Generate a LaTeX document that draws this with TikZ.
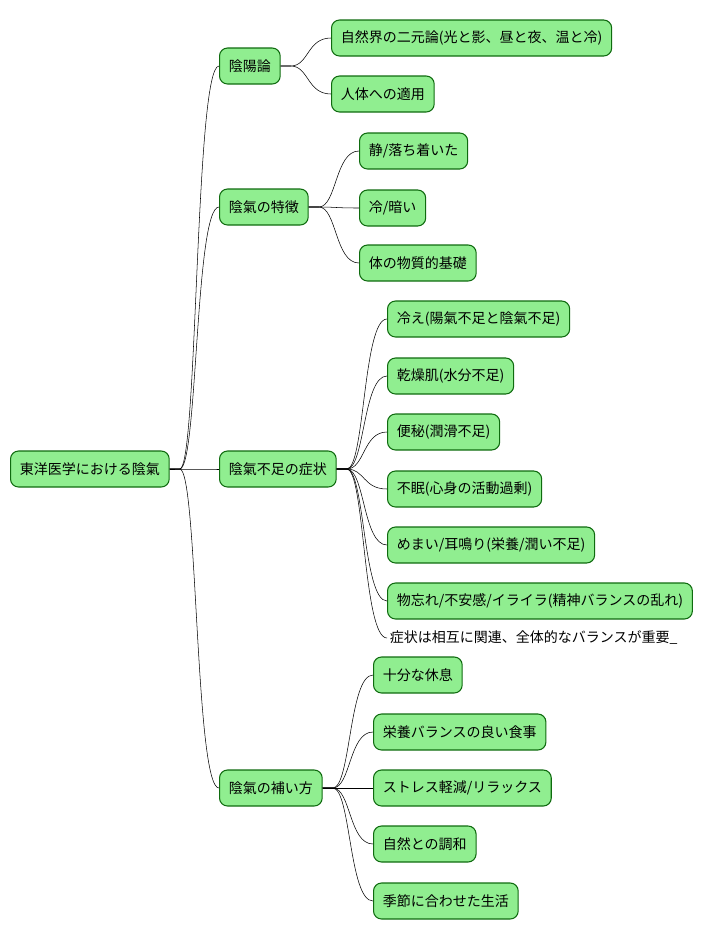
\documentclass[tikz,border=0pt]{standalone}
\usepackage{fontspec}
\setmainfont{Noto Sans CJK JP}
\usetikzlibrary{positioning}
\definecolor{boxfill}{HTML}{90EE90}
\definecolor{boxline}{HTML}{0F6B0F}
\tikzset{
  idea/.style={draw=boxline, fill=boxfill, rounded corners=6pt, thick, anchor=west,
    minimum height=27pt, inner xsep=7pt, font=\fontsize{10.5}{12}\selectfont},
  note/.style={anchor=west, inner xsep=2pt, font=\fontsize{10.5}{12}\selectfont},
  branch/.style={draw, thin}
}
\newcommand{\link}[2]{\draw[branch] (#1.east) -- ++(10,0) .. controls +(18,0) and +(-24,0) .. (#2.west);}

\begin{document}
\begin{tikzpicture}[x=0.75pt,y=-0.75pt]
\useasboundingbox (0,0) rectangle (705,940);

%Root
\node[idea] (root) at (10,469) {東洋医学における陰氣};

%Level one
\node[idea] (yinyang) at (219,66) {陰陽論};
\node[idea] (traits) at (219,207) {陰氣の特徴};
\node[idea] (lack) at (219,469) {陰氣不足の症状};
\node[idea] (care) at (219,788) {陰氣の補い方};

%Yin-yang theory
\node[idea] (nature) at (331,38) {自然界の二元論(光と影、昼と夜、温と冷)};
\node[idea] (body) at (331,94) {人体への適用};

%Traits
\node[idea] (calm) at (359,151) {静/落ち着いた};
\node[idea] (cold) at (359,208) {冷/暗い};
\node[idea] (matter) at (359,263) {体の物質的基礎};

%Symptoms
\node[idea] (chill) at (387,319) {冷え(陽氣不足と陰氣不足)};
\node[idea] (dry) at (387,376) {乾燥肌(水分不足)};
\node[idea] (constip) at (387,432) {便秘(潤滑不足)};
\node[idea] (insomnia) at (387,489) {不眠(心身の活動過剰)};
\node[idea] (dizzy) at (387,545) {めまい/耳鳴り(栄養/潤い不足)};
\node[idea] (forget) at (387,601) {物忘れ/不安感/イライラ(精神バランスの乱れ)};
\node[note] (remark) at (387,638) {症状は相互に関連、全体的なバランスが重要\_};

%Remedies
\node[idea] (rest) at (373,675) {十分な休息};
\node[idea] (food) at (373,732) {栄養バランスの良い食事};
\node[idea] (stress) at (373,788) {ストレス軽減/リラックス};
\node[idea] (harmony) at (373,844) {自然との調和};
\node[idea] (season) at (373,901) {季節に合わせた生活};

%Connectors
\link{root}{yinyang}
\link{root}{traits}
\link{root}{lack}
\link{root}{care}
\link{yinyang}{nature}
\link{yinyang}{body}
\link{traits}{calm}
\link{traits}{cold}
\link{traits}{matter}
\link{lack}{chill}
\link{lack}{dry}
\link{lack}{constip}
\link{lack}{insomnia}
\link{lack}{dizzy}
\link{lack}{forget}
\link{lack}{remark}
\link{care}{rest}
\link{care}{food}
\link{care}{stress}
\link{care}{harmony}
\link{care}{season}

\end{tikzpicture}
\end{document}
